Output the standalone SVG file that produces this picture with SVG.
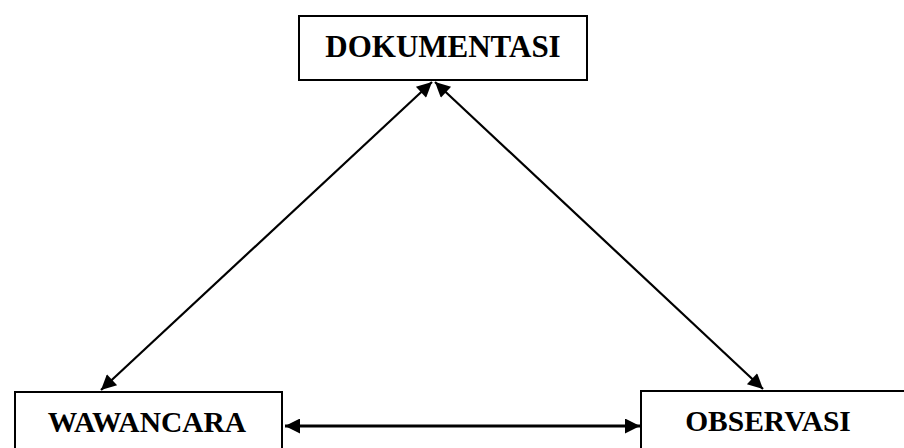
<svg xmlns="http://www.w3.org/2000/svg" width="904" height="448" viewBox="0 0 904 448">
<style>
.box{fill:#fff;stroke:#000;stroke-width:2}
.lbl{font-family:"Liberation Serif","Times New Roman",serif;font-weight:bold;fill:#000;text-anchor:middle}
.con{stroke:#000;stroke-width:2.2;fill:none;marker-start:url(#ah);marker-end:url(#ah)}
.thick{stroke-width:3}
</style>
<defs>
<marker id="ah" viewBox="0 0 10 10" refX="10" refY="5" markerWidth="17" markerHeight="15" orient="auto-start-reverse" markerUnits="userSpaceOnUse">
<path d="M0,0 L10,5 L0,10 z" fill="#000"/>
</marker>
</defs>
<rect width="904" height="448" fill="#fff"/>
<g id="connectors">
<line class="con" x1="101" y1="390" x2="432" y2="82"/>
<line class="con" x1="435" y1="82" x2="763" y2="389"/>
<line class="con thick" x1="285" y1="426" x2="640" y2="426"/>
</g>
<g id="dokumentasi">
<rect class="box" x="299" y="16" width="288" height="64"/>
<text class="lbl" x="443" y="57" font-size="31">DOKUMENTASI</text>
</g>
<g id="wawancara">
<rect class="box" x="15" y="392" width="267" height="70"/>
<text class="lbl" x="147" y="432" font-size="29.5">WAWANCARA</text>
</g>
<g id="observasi">
<rect class="box" x="641" y="391" width="280" height="70"/>
<text class="lbl" x="768" y="431" font-size="29.5">OBSERVASI</text>
</g>
</svg>
